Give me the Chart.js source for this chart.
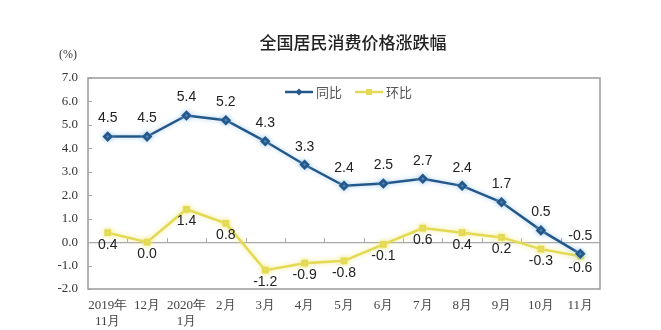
<!DOCTYPE html>
<html>
<head>
<meta charset="utf-8">
<script src="https://cdn.jsdelivr.net/npm/chart.js@4.4.0/dist/chart.umd.min.js"></script>
<style>
  body { margin: 0; background: #fff; }
</style>
</head>
<body>
<canvas id="cpi" width="661" height="330"></canvas>
<script>
// CPI change, Nov 2019 - Nov 2020
const months = [['2019年', '11月'], '12月', ['2020年', '1月'], '2月', '3月', '4月', '5月', '6月', '7月', '8月', '9月', '10月', '11月'];
const yoy = [4.5, 4.5, 5.4, 5.2, 4.3, 3.3, 2.4, 2.5, 2.7, 2.4, 1.7, 0.5, -0.5];
const mom = [0.4, 0.0, 1.4, 0.8, -1.2, -0.9, -0.8, -0.1, 0.6, 0.4, 0.2, -0.3, -0.6];
const yTicks = [-2, -1, 0, 1, 2, 3, 4, 5, 6, 7];

const titleText = '全国居民消费价格涨跌幅';
const blue = '#24578a';
const yellow = '#e4d955';
const glow = ['rgba(140,190,230,0.7)', 'rgba(240,232,120,0.9)'];
const serif = '"Liberation Serif", "Times New Roman", serif';
const cjk = '"Noto Sans CJK SC", sans-serif';

const decor = {
  id: 'decor',
  beforeDatasetsDraw(chart) {
    const { ctx, chartArea: a, scales } = chart;
    const y0 = scales.y.getPixelForValue(0);
    ctx.save();
    ctx.strokeStyle = '#a8a8a8';
    ctx.lineWidth = 1;
    // small ticks on the zero line between months
    const step = (a.right - a.left) / months.length;
    for (let i = 1; i < months.length; i++) {
      const x = Math.round(a.left + i * step) + 0.5;
      ctx.beginPath();
      ctx.moveTo(x, y0);
      ctx.lineTo(x, y0 - 4);
      ctx.stroke();
    }
    // ticks on the value axis
    yTicks.forEach(v => {
      const y = Math.round(scales.y.getPixelForValue(v)) + 0.5;
      ctx.beginPath();
      ctx.moveTo(a.left, y);
      ctx.lineTo(a.left + 4, y);
      ctx.stroke();
    });
    ctx.strokeStyle = '#9a9a9a';
    ctx.lineWidth = 1.5;
    ctx.strokeRect(a.left, a.top, a.right - a.left, a.bottom - a.top);
    ctx.restore();
  },
  beforeDatasetDraw(chart, args) {
    const ctx = chart.ctx;
    ctx.save();
    ctx.shadowColor = glow[args.index];
    ctx.shadowBlur = 5;
  },
  afterDatasetDraw(chart) {
    chart.ctx.restore();
  },
  afterDatasetsDraw(chart) {
    const { ctx } = chart;
    ctx.save();
    ctx.font = '14px "Liberation Sans", Arial, sans-serif';
    ctx.fillStyle = '#222';
    ctx.textAlign = 'center';
    ctx.textBaseline = 'middle';
    chart.getDatasetMeta(0).data.forEach((p, i) => {
      ctx.fillText(yoy[i].toFixed(1), p.x, p.y - 18);
    });
    chart.getDatasetMeta(1).data.forEach((p, i) => {
      ctx.fillText(mom[i].toFixed(1), p.x, p.y + 12);
    });
    ctx.restore();
  },
  afterDraw(chart) {
    const { ctx, chartArea: a } = chart;
    ctx.save();
    ctx.fillStyle = '#222';
    ctx.textBaseline = 'middle';
    ctx.textAlign = 'center';
    ctx.font = '500 17px ' + cjk;
    ctx.fillText(titleText, 353, 43);
    ctx.font = '12px ' + serif;
    ctx.fillStyle = '#333';
    ctx.fillText('(%)', 68, 55);

    // legend inside the plot area
    const cx = (a.left + a.right) / 2;
    const ly = a.top + 14;
    const items = [
      { label: '同比', color: blue, shape: 'diamond', x: cx - 59 },
      { label: '环比', color: yellow, shape: 'square', x: cx + 11 }
    ];
    ctx.font = '13px ' + cjk;
    ctx.textAlign = 'left';
    items.forEach(it => {
      ctx.strokeStyle = it.color;
      ctx.fillStyle = it.color;
      ctx.lineWidth = 2.5;
      ctx.beginPath();
      ctx.moveTo(it.x, ly);
      ctx.lineTo(it.x + 28, ly);
      ctx.stroke();
      const mx = it.x + 14;
      ctx.beginPath();
      if (it.shape === 'diamond') {
        ctx.moveTo(mx, ly - 3.5);
        ctx.lineTo(mx + 3.5, ly);
        ctx.lineTo(mx, ly + 3.5);
        ctx.lineTo(mx - 3.5, ly);
      } else {
        ctx.rect(mx - 3, ly - 3, 6, 6);
      }
      ctx.fill();
      ctx.fillStyle = '#555';
      ctx.fillText(it.label, it.x + 31, ly);
    });
    ctx.restore();
  }
};

new Chart(document.getElementById('cpi'), {
  type: 'line',
  data: {
    labels: months,
    datasets: [{
      label: '同比',
      data: yoy,
      borderColor: blue,
      backgroundColor: blue,
      borderWidth: 2.5,
      pointStyle: 'rectRot',
      pointRadius: 3.5,
      tension: 0
    }, {
      label: '环比',
      data: mom,
      borderColor: yellow,
      backgroundColor: yellow,
      borderWidth: 2.5,
      pointStyle: 'rect',
      pointRadius: 3,
      tension: 0
    }]
  },
  options: {
    responsive: false,
    animation: false,
    layout: { padding: { left: 0, right: 61, top: 78, bottom: 0 } },
    plugins: {
      legend: { display: false },
      title: { display: false },
      tooltip: { enabled: false }
    },
    scales: {
      x: {
        offset: true,
        grid: { display: false },
        border: { display: false },
        ticks: {
          padding: 1,
          color: '#444',
          maxRotation: 0,
          autoSkip: false,
          font: { family: serif, size: 13 }
        },
        afterFit(scale) { scale.height = 41; }
      },
      y: {
        min: -2,
        max: 7,
        afterBuildTicks(scale) { scale.ticks = yTicks.map(v => ({ value: v })); },
        grid: {
          drawTicks: false,
          color: c => (c.tick && c.tick.value === 0 ? '#a8a8a8' : 'transparent'),
          lineWidth: 1.2
        },
        border: { display: false },
        ticks: {
          padding: 10,
          color: '#333',
          font: { family: serif, size: 13 },
          callback: v => Number(v).toFixed(1)
        },
        afterFit(scale) { scale.width = 88; }
      }
    }
  },
  plugins: [decor]
});
</script>
</body>
</html>
